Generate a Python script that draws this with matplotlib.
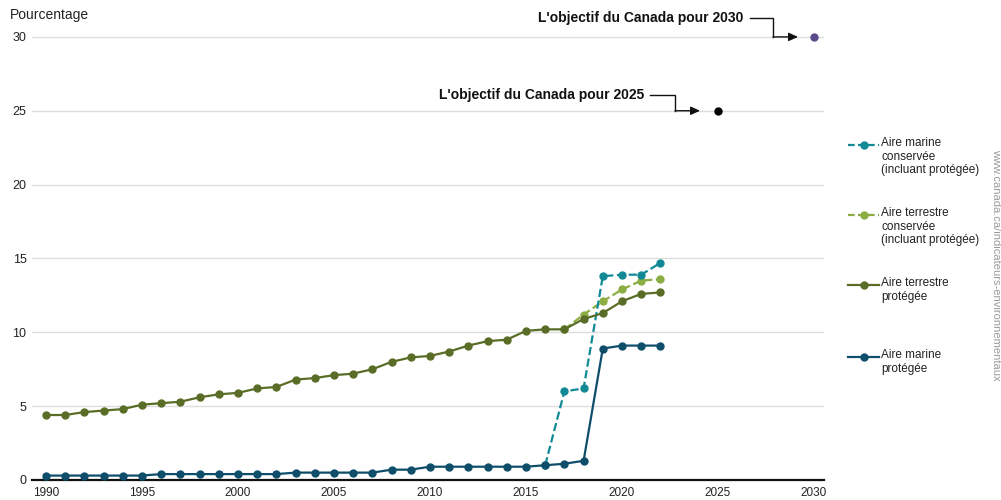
import matplotlib
matplotlib.use("Agg")
import matplotlib.pyplot as plt
from matplotlib.lines import Line2D

plt.rcParams['font.family'] = ['Liberation Sans', 'DejaVu Sans']

years = list(range(1990, 2023))
terr_prot = [4.4, 4.4, 4.6, 4.7, 4.8, 5.1, 5.2, 5.3, 5.6, 5.8, 5.9, 6.2, 6.3, 6.8, 6.9,
             7.1, 7.2, 7.5, 8.0, 8.3, 8.4, 8.7, 9.1, 9.4, 9.5, 10.1, 10.2, 10.2, 10.9,
             11.3, 12.1, 12.6, 12.7]
mar_prot = [0.3, 0.3, 0.3, 0.3, 0.3, 0.3, 0.4, 0.4, 0.4, 0.4, 0.4, 0.4, 0.4, 0.5, 0.5,
            0.5, 0.5, 0.5, 0.7, 0.7, 0.9, 0.9, 0.9, 0.9, 0.9, 0.9, 1.0, 1.1, 1.3,
            8.9, 9.1, 9.1, 9.1]
terr_cons_years = [2017, 2018, 2019, 2020, 2021, 2022]
terr_cons = [10.2, 11.2, 12.1, 12.9, 13.5, 13.6]
mar_cons_years = [2016, 2017, 2018, 2019, 2020, 2021, 2022]
mar_cons = [1.0, 6.0, 6.2, 13.8, 13.9, 13.9, 14.7]
target_years = [2025, 2030]
target_values = [25, 30]
target_labels = ["L'objectif du Canada pour 2025", "L'objectif du Canada pour 2030"]

legend_labels = ["Aire marine\nconservée\n(incluant protégée)",
                 "Aire terrestre\nconservée\n(incluant protégée)",
                 "Aire terrestre\nprotégée",
                 "Aire marine\nprotégée"]

c_mar_cons = "#118a96"
c_terr_cons = "#8bad42"
c_terr_prot = "#5a6d27"
c_mar_prot = "#0e4e6b"
c_2025 = "#000000"
c_2030 = "#5c4b8a"

W, H = 1001, 500
fig = plt.figure(figsize=(W / 100, H / 100), dpi=100)
ax = fig.add_axes([32 / W, 1 - 480 / H, (824 - 32) / W, (480 - 22) / H])

x0 = 1990 + (32 - 46) / 19.2
x1 = 1990 + (824 - 46) / 19.2
ax.set_xlim(x0, x1)
ax.set_ylim(0, 458 / 14.77)

for s in ['top', 'right', 'left']:
    ax.spines[s].set_visible(False)
ax.spines['bottom'].set_linewidth(1.6)
ax.spines['bottom'].set_color('#111111')

ax.set_yticks([0, 5, 10, 15, 20, 25, 30])
ax.set_xticks(list(range(1990, 2031, 5)))
ax.yaxis.grid(True, color='#dddddd', linewidth=1)
ax.set_axisbelow(True)
ax.tick_params(axis='y', length=0, pad=4, labelsize=9, labelcolor='#222222')
ax.tick_params(axis='x', length=0, pad=5, labelsize=8.5, labelcolor='#222222')

lw = 1.6
ms = 5
ax.plot(years, terr_prot, '-o', color=c_terr_prot, lw=lw, ms=ms, zorder=3)
ax.plot(terr_cons_years, terr_cons, '--o', color=c_terr_cons, lw=lw, ms=ms, zorder=2)
ax.plot(years, mar_prot, '-o', color=c_mar_prot, lw=lw, ms=ms, zorder=3)
ax.plot(mar_cons_years, mar_cons, '--o', color=c_mar_cons, lw=lw, ms=ms, zorder=2)

ax.plot([target_years[0]], [target_values[0]], 'o', color=c_2025, ms=ms, clip_on=False, zorder=4)
ax.plot([target_years[1]], [target_values[1]], 'o', color=c_2030, ms=ms, clip_on=False, zorder=4)

def px2x(p):
    return 1990 + (p - 46) / 19.2

def py2y(p):
    return (480 - p) / 14.77

# annotations: (text, text right px, text y px, line start px, elbow px, tip px, target value)
ann = [
    (target_labels[0], 644, 95, 650, 675, 700, target_values[0]),
    (target_labels[1], 743, 18, 750, 773, 798, target_values[1]),
]
for text, tx, ty, sx, ex, tipx, yv in ann:
    ax.text(px2x(tx), py2y(ty), text, ha='right', va='center', fontsize=10,
            fontweight='bold', color='#111111', clip_on=False)
    ax.plot([px2x(sx), px2x(ex), px2x(ex)], [py2y(ty), py2y(ty), yv],
            color='#111111', lw=1, clip_on=False, solid_joinstyle='miter')
    ax.annotate('', xy=(px2x(tipx), yv), xytext=(px2x(ex), yv), annotation_clip=False,
                arrowprops=dict(arrowstyle='-|>,head_length=0.55,head_width=0.25',
                                color='#111111', lw=1, shrinkA=0, shrinkB=0))

# y label
fig.text(10 / W, 1 - 15 / H, "Pourcentage", fontsize=10, color='#222222', va='center', ha='left')

# legend (manual)
entries = [(c_mar_cons, '--', 145), (c_terr_cons, '--', 215), (c_terr_prot, '-', 285), (c_mar_prot, '-', 357)]
for (col, ls, yp), lab in zip(entries, legend_labels):
    yf = 1 - yp / H
    if ls == '--':
        fig.add_artist(Line2D([848 / W, 879 / W], [yf, yf], color=col, ls='--', lw=lw, dashes=(3, 1.5)))
    else:
        fig.add_artist(Line2D([848 / W, 879 / W], [yf, yf], color=col, ls='-', lw=lw))
    fig.add_artist(Line2D([864 / W], [yf], color=col, marker='o', ms=ms))
    fig.text(881 / W, 1 - (yp - 7.5) / H, lab, fontsize=8.5, color='#222222', va='top', ha='left', linespacing=1.15)

fig.text(996 / W, 1 - 265 / H, "www.canada.ca/indicateurs-environnementaux", rotation=270,
         fontsize=8, color='#9a9a9a', ha='center', va='center')

fig.savefig("out.png", dpi=100)
